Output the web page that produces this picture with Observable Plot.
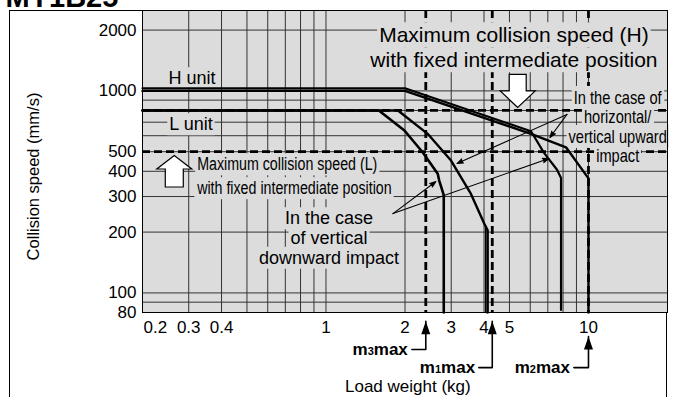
<!DOCTYPE html>
<html><head><meta charset="utf-8">
<script src="https://cdn.jsdelivr.net/npm/d3@7"></script>
<script src="https://cdn.jsdelivr.net/npm/@observablehq/plot@0.6"></script>
<style>
html,body{margin:0;padding:0;background:#fff;}
#wrap{position:relative;width:673px;height:397px;overflow:hidden;background:#fff;}
#outer{position:absolute;left:9px;top:10px;width:658px;height:420px;border:1px solid #000;border-bottom:none;box-sizing:border-box;}
#chart{position:absolute;left:0;top:0;}
</style></head><body>
<div id="wrap"><div id="outer"></div><div id="chart"></div></div>
<script>
// ---- axes / grid ----
const xTickValues = [0.3, 0.4, 1, 2, 3, 4, 5, 10];
const xFirstTick = [0.2];
const yTickValues = [80, 100, 200, 300, 400, 500, 1000, 2000];
const xGridValues = [0.3,0.4,0.5,0.6,0.7,0.8,0.9,1,2,3,4,5,6,7,8,9,10];
const yGridValues = [90,100,200,300,400,500,600,700,800,900,1000,2000];

// ---- limits ----
const maxLoadNames = ["m3max", "m1max", "m2max"];
const maxLoadValues = [2.4, 4.3, 10];
const fixedSpeedValues = [800, 500];   // H, L with fixed intermediate position

// ---- curves (load kg, speed mm/s) ----
const hUpLoad   = [0.2, 2.0, 6.04, 8.21, 10, 10];
const hUpSpeed  = [1000, 1000, 613, 526, 369, 80];
const hDownLoad  = [0.2, 2.0, 6.04, 6.77, 7.59, 7.86, 7.86];
const hDownSpeed = [1000, 1000, 613, 479, 395, 360, 80];
const lDownLoad  = [0.2, 1.59, 1.99, 2.335, 2.665, 2.70, 2.81, 2.81];
const lDownSpeed = [800, 800, 637, 497, 389, 360, 305, 80];
const lUpLoad   = [0.2, 1.88, 2.44, 2.995, 3.567, 4.01, 4.13, 4.13];
const lUpSpeed  = [800, 800, 613, 452, 309, 220, 204, 80];
const lUpEdgeLoad  = [4.06, 4.06];
const lUpEdgeSpeed = [212, 80];

// ---- annotations ----
const unitText = ["H unit", "L unit"];
const unitLoad = [0.309, 0.306];
const unitSpeed = [1152, 682];

const hLimitText = ["Maximum collision speed (H)", "with fixed intermediate position"];
const hLimitLoad = [5.2, 5.2];
const hLimitSpeed = [1881, 1414];

const lLimitText = ["Maximum collision speed (L)", "with fixed intermediate position"];
const lLimitLoad = [0.323, 0.323];
const lLimitSpeed = [432, 329];

const upText = ["In the case of", "horizontal/", "vertical upward", "impact"];
const upLoad = [12.92, 12.92, 12.92, 12.92];
const upSpeed = [922, 739, 591, 474];

const downText = ["In the case", "of vertical", "downward impact"];
const downLoad = [1.027, 1.027, 1.027];
const downSpeed = [233.6, 185.9, 148.9];

const pointerFromLoad  = [8.28, 8.28, 1.80, 1.80];
const pointerFromSpeed = [765, 765, 247, 247];
const pointerToLoad    = [3.155, 7.13, 2.624, 7.07];
const pointerToSpeed   = [437, 588, 356, 463];

const blockDownLoad = [5.375], blockDownSpeed = [828];
const blockUpLoad = [0.2643], blockUpSpeed = [479];

const mLabelLoad  = [2.05, 3.70, 8.5];
const mLabelSpeed = [52.5, 42.7, 42.7];
const mLineStartLoad = [2.125, 3.82, 8.8];
const mTipSpeed = [72.4, 72.4, 60.9];

const xTitle = "Load weight (kg)";
const xTitleLoad = 2.05, xTitleSpeed = 34.5;
const yTitle = "Collision speed (mm/s)";
const yTitleSpeed = 377;
const chartTitle = "MY1B25";

// ---- tables ----
const toRows = (xs, ys) => xs.map((x, i) => ({x, y: ys[i]}));
const mElbows = maxLoadValues.flatMap((m, i) => [
  {k: i, x: mLineStartLoad[i], y: mLabelSpeed[i]},
  {k: i, x: m, y: mLabelSpeed[i]},
  {k: i, x: m, y: mTipSpeed[i]}
]);
const pointers = pointerFromLoad.map((x, i) => ({x1: x, y1: pointerFromSpeed[i], x2: pointerToLoad[i], y2: pointerToSpeed[i]}));

// custom symbols (tip at origin)
const blockDown = {draw(c){c.moveTo(0,0);c.lineTo(-17.5,-16.5);c.lineTo(-8.5,-16.5);c.lineTo(-8.5,-33);c.lineTo(8.5,-33);c.lineTo(8.5,-16.5);c.lineTo(17.5,-16.5);c.closePath();}};
const blockUp = {draw(c){c.moveTo(0,0);c.lineTo(-17.5,13.5);c.lineTo(-9,13.5);c.lineTo(-9,31.5);c.lineTo(9,31.5);c.lineTo(9,13.5);c.lineTo(17.5,13.5);c.closePath();}};
const headUp = {draw(c){c.moveTo(0,0);c.lineTo(-4.5,13);c.lineTo(4.5,13);c.closePath();}};

const BG = "#dcdcdc";
const GRID = "#333";

const plot = Plot.plot({
  width: 673, height: 397,
  marginLeft: 142, marginRight: 6, marginTop: 10, marginBottom: 85,
  style: {fontFamily: "'Liberation Sans', Arial, Helvetica, sans-serif", background: "transparent", color: "#000", overflow: "visible"},
  x: {type: "log", domain: [0.2, 20], axis: null},
  y: {type: "log", domain: [80, 2500], axis: null},
  marks: [
    Plot.frame({fill: BG, stroke: null}),
    Plot.ruleX(xGridValues, {stroke: GRID, strokeWidth: 1}),
    Plot.ruleY(yGridValues, {stroke: GRID, strokeWidth: 1}),
    Plot.ruleX(maxLoadValues, {stroke: "#000", strokeWidth: 2.8, strokeDasharray: "8,4"}),
    Plot.ruleY(fixedSpeedValues, {stroke: "#000", strokeWidth: 2.8, strokeDasharray: "8,4"}),

    Plot.text(unitText, {x: unitLoad, y: unitSpeed, text: d => d, fontSize: 18, ariaDescription: "boxed"}),
    Plot.text(hLimitText, {x: hLimitLoad, y: hLimitSpeed, text: d => d, fontSize: 21, ariaDescription: "boxed"}),
    Plot.text(lLimitText, {x: lLimitLoad, y: lLimitSpeed, text: d => d, fontSize: 18, textAnchor: "start", ariaDescription: "narrow"}),
    Plot.text(upText, {x: upLoad, y: upSpeed, text: d => d, fontSize: 18.5, ariaDescription: "narrow"}),
    Plot.text(downText, {x: downLoad, y: downSpeed, text: d => d, fontSize: 18, ariaDescription: "boxed"}),

    Plot.line(toRows(lDownLoad, lDownSpeed), {x: "x", y: "y", stroke: "#000", strokeWidth: 2.6}),
    Plot.line(toRows(lUpLoad, lUpSpeed), {x: "x", y: "y", stroke: "#000", strokeWidth: 2.4}),
    Plot.line(toRows(lUpEdgeLoad, lUpEdgeSpeed), {x: "x", y: "y", stroke: "#000", strokeWidth: 1.6}),
    Plot.line(toRows(hDownLoad, hDownSpeed), {x: "x", y: "y", stroke: "#000", strokeWidth: 2.2, dy: -2.6}),
    Plot.line(toRows(hUpLoad, hUpSpeed), {x: "x", y: "y", stroke: "#000", strokeWidth: 2.4}),

    Plot.dot(toRows(blockDownLoad, blockDownSpeed), {x: "x", y: "y", symbol: blockDown, fill: "#fff", stroke: "#000", strokeWidth: 1.2}),
    Plot.dot(toRows(blockUpLoad, blockUpSpeed), {x: "x", y: "y", symbol: blockUp, fill: "#fff", stroke: "#000", strokeWidth: 1.2}),
    Plot.arrow(pointers, {x1: "x1", y1: "y1", x2: "x2", y2: "y2", stroke: "#000", fill: "#000", strokeWidth: 1.1, headLength: 9, headAngle: 40}),

    Plot.frame({stroke: "#000", strokeWidth: 1}),

    // axes
    Plot.text(yTickValues, {y: d => d, text: d => String(d), frameAnchor: "left", textAnchor: "end", dx: -6, fontSize: 17}),
    Plot.text(xTickValues, {x: d => d, text: d => String(d), frameAnchor: "bottom", lineAnchor: "top", dy: 8, fontSize: 17}),
    Plot.text(xFirstTick, {x: d => d, text: d => String(d), frameAnchor: "bottom", lineAnchor: "top", textAnchor: "start", dy: 8, dx: 1, fontSize: 17}),
    Plot.text([xTitle], {x: [xTitleLoad], y: [xTitleSpeed], text: d => d, fontSize: 17}),
    Plot.text([yTitle], {y: [yTitleSpeed], text: d => d, frameAnchor: "left", textAnchor: "middle", rotate: -90, dx: -109, fontSize: 16.5}),
    Plot.text([chartTitle], {text: d => d, frameAnchor: "top-left", textAnchor: "start", lineAnchor: "bottom", dx: -137, dy: -4, fontSize: 29, fontWeight: "bold"}),

    // m-max labels and elbow arrows
    Plot.text(maxLoadNames, {x: mLabelLoad, y: mLabelSpeed, text: d => d, textAnchor: "end", fontWeight: "bold", fontSize: 17, ariaDescription: "mlabels"}),
    Plot.line(mElbows, {x: "x", y: "y", z: "k", stroke: "#000", strokeWidth: 1.6}),
    Plot.dot(maxLoadValues.map((m, i) => ({x: m, y: mTipSpeed[i]})), {x: "x", y: "y", symbol: headUp, fill: "#000", stroke: "none"})
  ]
});
document.getElementById("chart").append(plot);

// post-processing: condensed type, label backgrounds, small subscripts
const svg = d3.select(plot);
svg.selectAll('g[aria-description="narrow"] text').each(function() {
  const w = this.getComputedTextLength();
  this.setAttribute("textLength", (w * 0.79).toFixed(1));
  this.setAttribute("lengthAdjust", "spacingAndGlyphs");
});
svg.selectAll('g[aria-description="narrow"], g[aria-description="boxed"]').each(function() {
  const g = d3.select(this);
  g.selectAll("text").nodes().forEach(t => {
    const b = t.getBBox();
    g.insert("rect", ":first-child")
      .attr("x", b.x - 2).attr("y", b.y - 1)
      .attr("width", b.width + 4).attr("height", b.height + 2)
      .attr("transform", t.getAttribute("transform"))
      .attr("fill", BG).attr("stroke", "none");
  });
});
svg.selectAll('g[aria-description="mlabels"] text').each(function() {
  const s = this.textContent;
  this.textContent = "";
  const t = d3.select(this);
  t.append("tspan").text(s[0]);
  t.append("tspan").attr("font-size", 11).text(s[1]);
  t.append("tspan").text(s.slice(2));
});
</script>
</body></html>
